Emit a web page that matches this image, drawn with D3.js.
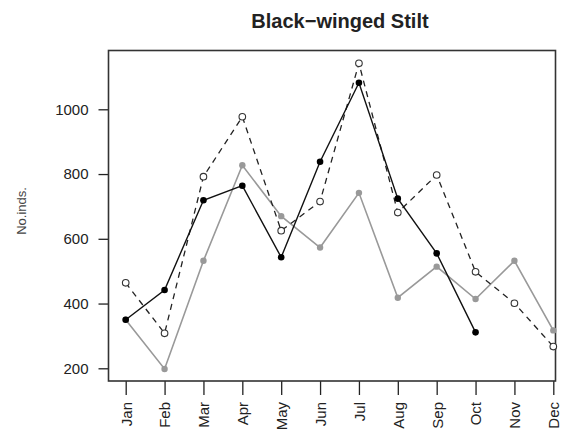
<!DOCTYPE html>
<html>
<head>
<meta charset="utf-8">
<script src="https://cdn.jsdelivr.net/npm/d3@7"></script>
<style>
  body { margin: 0; background: #fff; }
  text { font-family: "Liberation Sans", Arial, sans-serif; }
</style>
</head>
<body>
<svg width="572" height="435"></svg>
<script>
// Black-winged Stilt, monthly counts

var months = ["Jan", "Feb", "Mar", "Apr", "May", "Jun", "Jul", "Aug", "Sep", "Oct", "Nov", "Dec"];
var yTicks = [200, 400, 600, 800, 1000];

// black line, filled dots (no data for Nov, Dec)
var seriesBlack = [350, 442, 719, 764, 543, 838, 1082, 724, 555, 311];
// grey line, grey dots
var seriesGrey = [350, 198, 532, 827, 670, 573, 742, 418, 514, 414, 532, 317];
// dashed line, open circles
var seriesDashed = [464, 308, 792, 977, 625, 715, 1142, 681, 797, 498, 401, 267];

function stiltChart(){

var svg = d3.select("svg"),
    box = {left: 108.5, right: 555.5, top: 50.5, bottom: 381};

var x = d3.scalePoint()
    .domain(months)
    .range([125.7, 553.3]);

var y = d3.scaleLinear()
    .domain([200, 1000])
    .range([368.3, 109.3]);

function toPoints(vals) {
  return vals.map(function(v, i) { return {m: months[i], v: v}; });
}

var line = d3.line()
    .x(function(d) { return x(d.m); })
    .y(function(d) { return y(d.v); });

// title
svg.append("text")
    .attr("x", 340)
    .attr("y", 28)
    .attr("text-anchor", "middle")
    .attr("font-size", 20)
    .attr("font-weight", "bold")
    .attr("fill", "#222")
    .text("Black\u2212winged Stilt");

// y label
svg.append("text")
    .attr("transform", "translate(26,211) rotate(-90)")
    .attr("text-anchor", "middle")
    .attr("font-size", 13)
    .attr("fill", "#444")
    .text("No.inds.");

// axes
var gx = svg.append("g")
    .attr("transform", "translate(0," + box.bottom + ")")
    .call(d3.axisBottom(x).tickSize(14));
gx.select(".domain").remove();
gx.selectAll("line").attr("stroke", "#222").attr("stroke-width", 1.3);
gx.selectAll("text")
    .attr("transform", "rotate(-90)")
    .attr("x", -21)
    .attr("y", 0)
    .attr("dy", "0.36em")
    .style("text-anchor", "end")
    .attr("font-size", 15)
    .attr("font-family", null)
    .attr("fill", "#222");

var gy = svg.append("g")
    .attr("transform", "translate(" + box.left + ",0)")
    .call(d3.axisLeft(y).tickValues(yTicks).tickFormat(d3.format("d")).tickSize(10).tickPadding(10));
gy.select(".domain").remove();
gy.selectAll("line").attr("stroke", "#222").attr("stroke-width", 1.3);
gy.selectAll("text")
    .attr("font-size", 15)
    .attr("font-family", null)
    .attr("fill", "#222");

// plot box
svg.append("rect")
    .attr("x", box.left)
    .attr("y", box.top)
    .attr("width", box.right - box.left)
    .attr("height", box.bottom - box.top)
    .attr("fill", "none")
    .attr("stroke", "#333")
    .attr("stroke-width", 1.6);

// grey series
svg.append("path")
    .datum(toPoints(seriesGrey))
    .attr("fill", "none")
    .attr("stroke", "#999")
    .attr("stroke-width", 1.6)
    .attr("d", line);
svg.append("g").selectAll("circle")
    .data(toPoints(seriesGrey))
  .enter().append("circle")
    .attr("cx", function(d) { return x(d.m); })
    .attr("cy", function(d) { return y(d.v); })
    .attr("r", 3.2)
    .attr("fill", "#999");

// dashed series
svg.append("path")
    .datum(toPoints(seriesDashed))
    .attr("fill", "none")
    .attr("stroke", "#222")
    .attr("stroke-width", 1.3)
    .attr("stroke-dasharray", "6,5")
    .attr("d", line);
svg.append("g").selectAll("circle")
    .data(toPoints(seriesDashed))
  .enter().append("circle")
    .attr("cx", function(d) { return x(d.m); })
    .attr("cy", function(d) { return y(d.v); })
    .attr("r", 3.3)
    .attr("fill", "#fff")
    .attr("stroke", "#333")
    .attr("stroke-width", 1.1);

// black series
svg.append("path")
    .datum(toPoints(seriesBlack))
    .attr("fill", "none")
    .attr("stroke", "#111")
    .attr("stroke-width", 1.4)
    .attr("d", line);
svg.append("g").selectAll("circle")
    .data(toPoints(seriesBlack))
  .enter().append("circle")
    .attr("cx", function(d) { return x(d.m); })
    .attr("cy", function(d) { return y(d.v); })
    .attr("r", 3.3)
    .attr("fill", "#000");
}

stiltChart();
</script>
</body>
</html>
